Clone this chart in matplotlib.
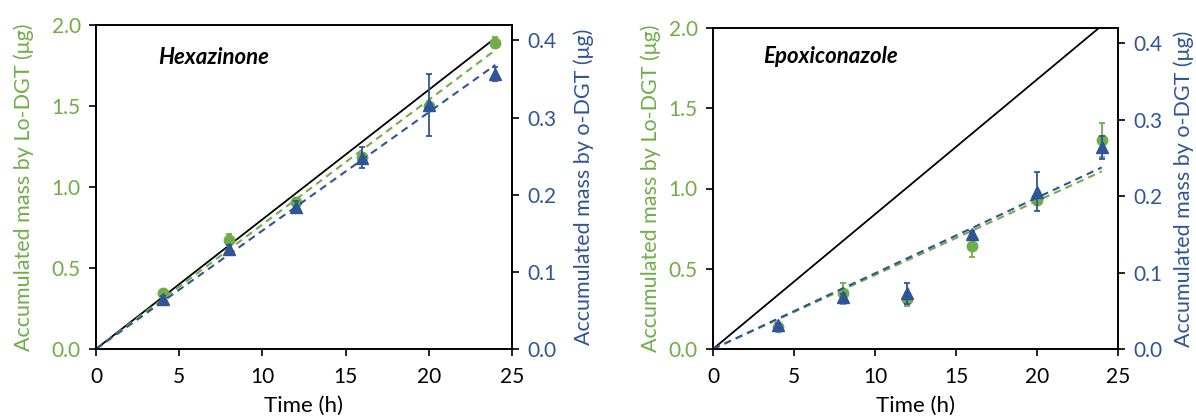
import numpy as np
import matplotlib
matplotlib.use("Agg")
import matplotlib.pyplot as plt

plt.rcParams['font.family'] = ['Lato', 'DejaVu Sans']

GREEN = '#70AD47'
BLUE = '#2F5597'

time_h = [4, 8, 12, 16, 20, 24]

# Hexazinone
hex_lo = [0.345, 0.673, 0.905, 1.185, 1.50, 1.89]
hex_lo_err = [0.015, 0.035, 0.03, 0.02, 0.02, 0.035]
hex_o = [0.065, 0.130, 0.184, 0.248, 0.316, 0.356]
hex_o_err = [0.004, 0.005, 0.008, 0.014, 0.040, 0.009]
hex_theory_end = 1.92

# Epoxiconazole
epo_lo = [0.139, 0.347, 0.31, 0.644, 0.928, 1.30]
epo_lo_err = [0.01, 0.065, 0.04, 0.07, 0.03, 0.105]
epo_o = [0.031, 0.0676, 0.073, 0.151, 0.206, 0.264]
epo_o_err = [0.003, 0.004, 0.014, 0.004, 0.025, 0.015]
epo_theory_end = 2.015

panels = [
    ('Hexazinone', hex_lo, hex_lo_err, hex_o, hex_o_err, hex_theory_end,
     [96 / 1196, 67 / 416, 416 / 1196, 324 / 416], (0.149, 0.90),
     (-0.150, 1.147, -0.145)),
    ('Epoxiconazole', epo_lo, epo_lo_err, epo_o, epo_o_err, epo_theory_end,
     [713 / 1196, 67 / 416, 405 / 1196, 321 / 416], (0.123, 0.91),
     (-0.128, 1.136, -0.147)),
]

fig = plt.figure(figsize=(11.96, 4.16), dpi=100)


def fit_origin(x, y):
    # linear trendline forced through the origin
    x = np.asarray(x, float)
    y = np.asarray(y, float)
    return (x * y).sum() / (x * x).sum()


for name, lo, lo_err, o, o_err, theory_end, rect, txt, lab in panels:
    ax = fig.add_axes(rect)
    ax2 = ax.twinx()

    # theoretical line
    ax.plot([0, 24], [0, theory_end], color='black', lw=1.3, zorder=2)

    k_lo = fit_origin(time_h, lo)
    k_o = fit_origin(time_h, o)
    ax.plot([0, 24], [0, 24 * k_lo], color=GREEN, lw=1.5, ls=(0, (3.5, 2.5)), zorder=2)
    ax2.plot([0, 24], [0, 24 * k_o], color=BLUE, lw=1.5, ls=(0, (3.5, 2.5)), zorder=2)

    ax.errorbar(time_h, lo, yerr=lo_err, fmt='o', color=GREEN, ms=7.5,
                capsize=2, elinewidth=1.3, capthick=1.3, zorder=3)
    ax2.errorbar(time_h, o, yerr=o_err, fmt='^', color=BLUE, ms=8,
                 capsize=2, elinewidth=1.3, capthick=1.3, zorder=3)

    ax.set_xlim(0, 25)
    ax.set_ylim(0, 2.0)
    ax2.set_ylim(0, 0.42)
    ax.set_xticks(np.arange(0, 26, 5))
    ax.set_yticks(np.arange(0, 2.01, 0.5))
    ax2.set_yticks(np.arange(0, 0.41, 0.1))
    ax.set_yticklabels(['%.1f' % v for v in np.arange(0, 2.01, 0.5)])
    ax2.set_yticklabels(['%.1f' % v for v in np.arange(0, 0.41, 0.1)])

    ax.tick_params(axis='x', direction='out', length=5, width=1.2, labelsize=15, pad=8)
    ax.tick_params(axis='y', direction='out', length=5, width=1.2, labelsize=15,
                   labelcolor=GREEN, pad=6)
    ax2.tick_params(axis='y', direction='out', length=5, width=1.2, labelsize=15,
                    labelcolor=BLUE, pad=6)
    for a in (ax, ax2):
        for s in a.spines.values():
            s.set_linewidth(1.2)

    ax.set_xlabel('Time (h)', fontsize=16)
    ax.set_ylabel('Accumulated mass by Lo-DGT (μg)', fontsize=15.5, color=GREEN)
    ax2.set_ylabel('Accumulated mass by o-DGT (μg)', fontsize=15.5, color=BLUE)
    ax.yaxis.set_label_coords(lab[0], 0.5)
    ax2.yaxis.set_label_coords(lab[1], 0.5)
    ax.xaxis.set_label_coords(0.5, lab[2])

    ax.text(txt[0], txt[1], name, transform=ax.transAxes, fontsize=16,
            fontweight='bold', fontstyle='italic', va='center', ha='left')

fig.savefig('out.png', dpi=100)
